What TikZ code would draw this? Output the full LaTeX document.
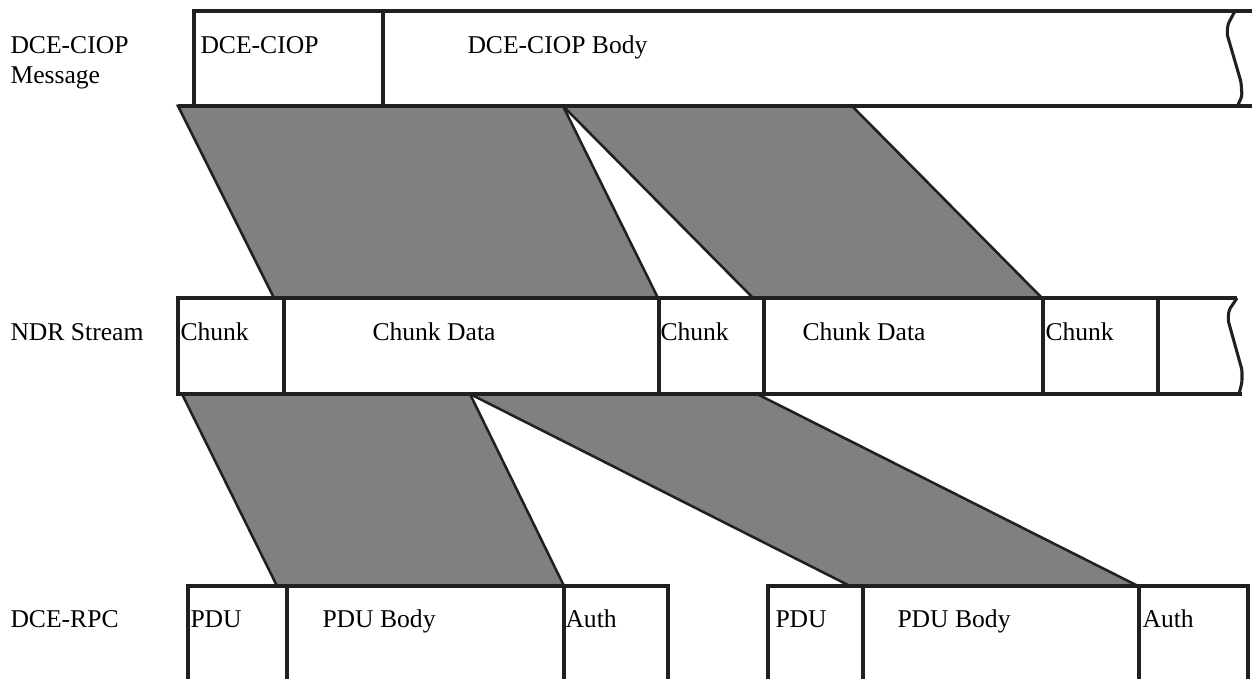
\documentclass[tikz,border=0pt]{standalone}
\usepackage{fontspec}
\setmainfont{Liberation Serif}
\definecolor{ink}{RGB}{35,31,32}
\definecolor{shade}{RGB}{128,128,128}
\tikzset{every picture/.style={line width=0.75pt}}
\tikzset{
  cell/.style={draw=ink, line width=2.6pt},
  band/.style={draw=ink, fill=shade, line width=1.9pt, line join=miter},
  tear/.style={draw=ink, line width=2.3pt, rounded corners=2pt},
  lbl/.style={anchor=base west, inner sep=0pt, font=\fontsize{19.2}{23}\selectfont}
}
\begin{document}
\begin{tikzpicture}[x=0.75pt,y=0.75pt,yscale=-1,xscale=1]
\useasboundingbox (0,0) rectangle (1252,679);

%Band corners, message to stream
\coordinate (m0) at (178,106);
\coordinate (m1) at (563,106);
\coordinate (m2) at (852,106);
\coordinate (s0) at (274,298);
\coordinate (s1) at (658,298);
\coordinate (s2) at (753,298);
\coordinate (s3) at (1042,298);
%Band corners, stream to PDUs
\coordinate (t0) at (182,394);
\coordinate (t1) at (470,394);
\coordinate (t2) at (757,394);
\coordinate (p0) at (277,586);
\coordinate (p1) at (564,586);
\coordinate (p2) at (850,586);
\coordinate (p3) at (1138,586);

%Shaded bands
\draw [band] (m0) -- (m1) -- (s1) -- (s0) -- cycle ;
\draw [band] (m1) -- (m2) -- (s3) -- (s2) -- cycle ;
\draw [band] (t0) -- (t1) -- (p1) -- (p0) -- cycle ;
\draw [band] (t1) -- (t2) -- (p3) -- (p2) -- cycle ;

%DCE-CIOP message row
\draw [cell] (194,106) -- (194,11) -- (1252,11) ;
\draw [cell] (178,106) -- (1252,106) ;
\draw [cell] (383,11) -- (383,106) ;
\draw [tear] (1235,11) -- (1228,24) -- (1227,34) -- (1241,82) -- (1242,96) -- (1237,107) ;

%NDR stream row
\draw [cell] (1237,298) -- (178,298) -- (178,394) -- (1242,394) ;
\foreach \x in {284,659,764,1043,1158}
  \draw [cell] (\x,298) -- (\x,394) ;
\draw [tear] (1237,298) -- (1229,310) -- (1228,320) -- (1242,370) -- (1242,382) -- (1239,394) ;

%DCE-RPC PDU rows
\draw [cell] (188,679) -- (188,586) -- (668,586) -- (668,679) ;
\draw [cell] (287,586) -- (287,679) ;
\draw [cell] (564,586) -- (564,679) ;
\draw [cell] (768,679) -- (768,586) -- (1248,586) -- (1248,679) ;
\draw [cell] (863,586) -- (863,679) ;
\draw [cell] (1139,586) -- (1139,679) ;

% Text Node
\node [lbl] (lmsg) at (10,53) {DCE-CIOP};
\node [lbl] (lmsgb) at (10,83) {Message};
\node [lbl] (hdr) at (200,53) {DCE-CIOP};
\node [lbl] (body) at (467,53) {DCE-CIOP Body};
% Text Node
\node [lbl] (lndr) at (10,340) {NDR Stream};
\node [lbl] (ck1) at (180,340) {Chunk};
\node [lbl] (cd1) at (372,340) {Chunk Data};
\node [lbl] (ck2) at (660,340) {Chunk};
\node [lbl] (cd2) at (802,340) {Chunk Data};
\node [lbl] (ck3) at (1045,340) {Chunk};
% Text Node
\node [lbl] (lrpc) at (10,627) {DCE-RPC};
\node [lbl] (pdu1) at (190,627) {PDU};
\node [lbl] (pb1) at (322,627) {PDU Body};
\node [lbl] (au1) at (565,627) {Auth};
\node [lbl] (pdu2) at (775,627) {PDU};
\node [lbl] (pb2) at (897,627) {PDU Body};
\node [lbl] (au2) at (1142,627) {Auth};

\end{tikzpicture}
\end{document}
